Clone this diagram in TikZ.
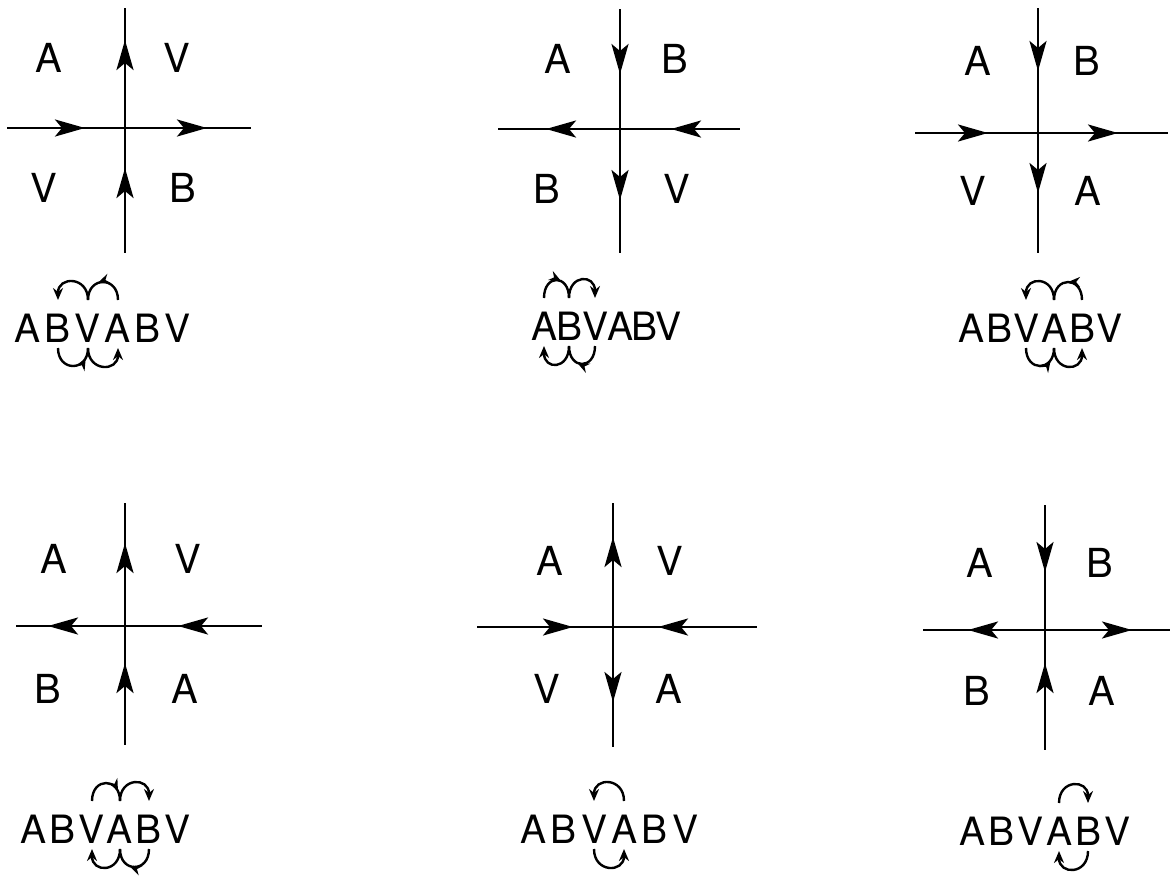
\documentclass[tikz,border=0pt]{standalone}
\usepackage{fontspec}
\setmainfont{TeX Gyre Heros}
\usetikzlibrary{arrows.meta,decorations.markings}
\tikzset{
  mainline/.style={line width=2.8pt},
  ah/.style={line width=2.8pt,-{Stealth[length=30pt,width=17pt,inset=7pt]}},
  lab/.style={anchor=base,inner sep=0pt,font=\fontsize{40}{40}\selectfont},
  rowlet/.style={anchor=base,inner sep=0pt,font=\fontsize{39}{39}\selectfont},
  arcline/.style={line width=2.4pt},
  endarr/.style={-{Stealth[length=12pt,width=10pt]}},
  midarr/.style={postaction={decorate},decoration={markings,mark=at position #1 with {\arrow{Stealth[length=12pt,width=10pt]}}}}
}
\newcommand\toparc[3][]{\draw[arcline,#1] ([yshift=42pt]#2.base) .. controls ([yshift=66pt]#2.base) and ([yshift=66pt]#3.base) .. ([yshift=42pt]#3.base);}
\newcommand\botarc[3][]{\draw[arcline,#1] ([yshift=-6pt]#2.base) .. controls ([yshift=-30pt]#2.base) and ([yshift=-30pt]#3.base) .. ([yshift=-6pt]#3.base);}
\begin{document}
\begin{tikzpicture}[x=1pt,y=-1pt]
\useasboundingbox (0,0) rectangle (1174,887);
% ---------- Panel 1 ----------
\coordinate (p1t) at (125,8); \coordinate (p1b) at (125,253);
\coordinate (p1l) at (7,128); \coordinate (p1r) at (251,128);
\draw[mainline] (p1t) -- (p1b); \draw[mainline] (p1l) -- (p1r);
\draw[ah] (125,72) -- (125,40);
\draw[ah] (125,199) -- (125,168);
\draw[ah] (52,128) -- (85,128);
\draw[ah] (176,128) -- (207,128);
\node[lab] (p1a) at (49,72) {A};
\node[lab] (p1b2) at (177,72) {V};
\node[lab] (p1c) at (44,202) {V};
\node[lab] (p1d) at (183,202) {B};
\foreach \l/\x [count=\i from 0] in {A/28,B/58,V/88,A/118,B/148,V/178}
  \node[rowlet] (r1-\i) at (\x,342) {\l};
\toparc[endarr]{r1-2}{r1-1}
\toparc[midarr=0.6]{r1-3}{r1-2}
\botarc[midarr=0.8]{r1-1}{r1-2}
\botarc[endarr]{r1-2}{r1-3}
% ---------- Panel 2 ----------
\coordinate (p2t) at (620,9); \coordinate (p2b) at (620,253);
\coordinate (p2l) at (498,129); \coordinate (p2r) at (740,129);
\draw[mainline] (p2t) -- (p2b); \draw[mainline] (p2l) -- (p2r);
\draw[ah] (620,44) -- (620,74);
\draw[ah] (620,169) -- (620,200);
\draw[ah] (577,129) -- (546,129);
\draw[ah] (702,129) -- (671,129);
\node[lab] (p2a) at (558,73) {A};
\node[lab] (p2b2) at (675,73) {B};
\node[lab] (p2c) at (547,203) {B};
\node[lab] (p2d) at (677,203) {V};
\foreach \l/\x [count=\i from 0] in {A/544,B/569,V/595,A/620,B/644,V/668}
  \node[rowlet] (r2-\i) at (\x,340) {\l};
\toparc[midarr=0.6]{r2-0}{r2-1}
\toparc[endarr]{r2-1}{r2-2}
\botarc[endarr]{r2-1}{r2-0}
\botarc[midarr=0.6]{r2-2}{r2-1}
% ---------- Panel 3 ----------
\coordinate (p3t) at (1038,8); \coordinate (p3b) at (1038,253);
\coordinate (p3l) at (915,133); \coordinate (p3r) at (1168,133);
\draw[mainline] (p3t) -- (p3b); \draw[mainline] (p3l) -- (p3r);
\draw[ah] (1038,41) -- (1038,71);
\draw[ah] (1038,162) -- (1038,193);
\draw[ah] (958,133) -- (988,133);
\draw[ah] (1087,133) -- (1118,133);
\node[lab] (p3a) at (978,75) {A};
\node[lab] (p3b2) at (1087,75) {B};
\node[lab] (p3c) at (973,205) {V};
\node[lab] (p3d) at (1088,205) {A};
\foreach \l/\x [count=\i from 0] in {A/971,B/999,V/1026,A/1054,B/1082,V/1109}
  \node[rowlet] (r3-\i) at (\x,342) {\l};
\toparc[endarr]{r3-3}{r3-2}
\toparc[midarr=0.5]{r3-4}{r3-3}
\botarc[midarr=0.75]{r3-2}{r3-3}
\botarc[endarr]{r3-3}{r3-4}
% ---------- Panel 4 ----------
\coordinate (p4t) at (125,503); \coordinate (p4b) at (125,745);
\coordinate (p4l) at (16,626); \coordinate (p4r) at (262,626);
\draw[mainline] (p4t) -- (p4b); \draw[mainline] (p4l) -- (p4r);
\draw[ah] (125,573) -- (125,543);
\draw[ah] (125,694) -- (125,663);
\draw[ah] (80,626) -- (48,626);
\draw[ah] (211,626) -- (178,626);
\node[lab] (p4a) at (54,573) {A};
\node[lab] (p4b2) at (188,573) {V};
\node[lab] (p4c) at (48,703) {B};
\node[lab] (p4d) at (185,703) {A};
\foreach \l/\x [count=\i from 0] in {A/34,B/63,V/92,A/120,B/149,V/178}
  \node[rowlet] (r4-\i) at (\x,843) {\l};
\toparc[midarr=0.8]{r4-2}{r4-3}
\toparc[endarr]{r4-3}{r4-4}
\botarc[endarr]{r4-3}{r4-2}
\botarc[midarr=0.6]{r4-4}{r4-3}
% ---------- Panel 5 ----------
\coordinate (p5t) at (613,503); \coordinate (p5b) at (613,747);
\coordinate (p5l) at (477,627); \coordinate (p5r) at (757,627);
\draw[mainline] (p5t) -- (p5b); \draw[mainline] (p5l) -- (p5r);
\draw[ah] (613,569) -- (613,537);
\draw[ah] (613,672) -- (613,702);
\draw[ah] (542,627) -- (573,627);
\draw[ah] (689,627) -- (658,627);
\node[lab] (p5a) at (550,575) {A};
\node[lab] (p5b2) at (670,575) {V};
\node[lab] (p5c) at (547,703) {V};
\node[lab] (p5d) at (669,703) {A};
\foreach \l/\x [count=\i from 0] in {A/533,B/563,V/594,A/624,B/654,V/685}
  \node[rowlet] (r5-\i) at (\x,843) {\l};
\toparc[endarr]{r5-3}{r5-2}
\botarc[endarr]{r5-2}{r5-3}
% ---------- Panel 6 ----------
\coordinate (p6t) at (1045,505); \coordinate (p6b) at (1045,750);
\coordinate (p6l) at (923,630); \coordinate (p6r) at (1170,630);
\draw[mainline] (p6t) -- (p6b); \draw[mainline] (p6l) -- (p6r);
\draw[ah] (1045,541) -- (1045,572);
\draw[ah] (1045,699) -- (1045,663);
\draw[ah] (999,630) -- (968,630);
\draw[ah] (1100,630) -- (1132,630);
\node[lab] (p6a) at (980,577) {A};
\node[lab] (p6b2) at (1100,577) {B};
\node[lab] (p6c) at (977,705) {B};
\node[lab] (p6d) at (1102,705) {A};
\foreach \l/\x [count=\i from 0] in {A/972,B/1001,V/1030,A/1059,B/1088,V/1117}
  \node[rowlet] (r6-\i) at (\x,845) {\l};
\toparc[endarr]{r6-3}{r6-4}
\botarc[endarr]{r6-4}{r6-3}
\end{tikzpicture}
\end{document}
